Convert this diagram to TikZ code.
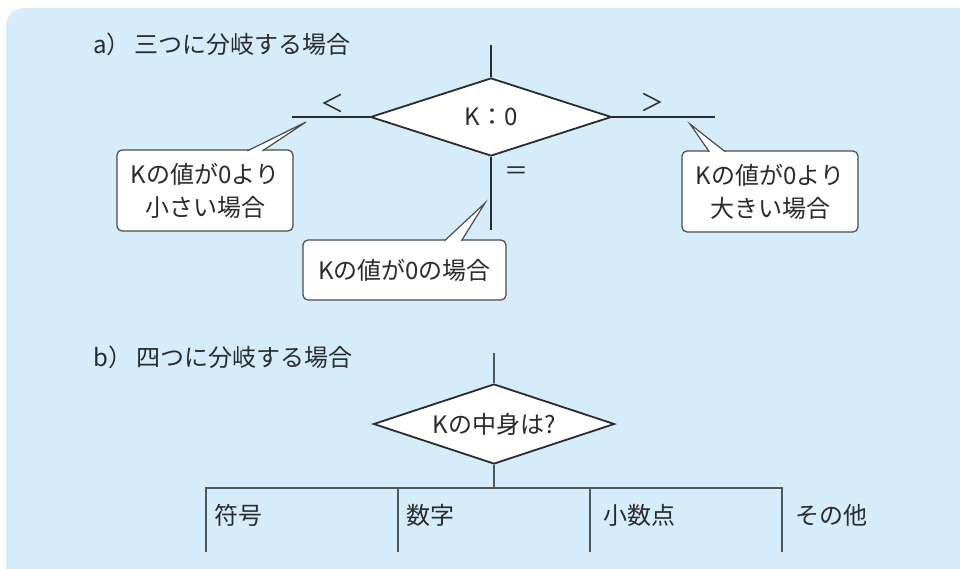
\documentclass[tikz,border=0pt]{standalone}
\usepackage{fontspec}
\setmainfont{Noto Sans CJK JP}
\usetikzlibrary{shapes.geometric,calc}
\definecolor{bgblue}{HTML}{D5EDFA}
\definecolor{ink}{HTML}{2B2B2B}
\definecolor{rule}{HTML}{555555}
\tikzset{
  decision/.style={diamond, draw=ink, line width=1.8pt, fill=white, inner sep=0pt, text=ink},
  flowline/.style={draw=ink, line width=1.6pt},
  caseline/.style={draw=rule, line width=1.6pt},
  notebox/.style={draw=ink!85, line width=1.2pt, fill=white, rounded corners=5pt, align=center, text=ink, inner sep=0pt},
  notetip/.style={draw=ink!85, line width=1.2pt, fill=white},
  tag/.style={text=ink, inner sep=0pt}
}
\begin{document}
\begin{tikzpicture}[x=1pt,y=-1pt,font=\fontsize{24}{33}\selectfont]
\clip (0,0) rectangle (960,568);
\fill[bgblue, rounded corners=18pt] (6,8) rectangle (990,600);

% a)
\node[tag, anchor=west] (ta) at (93,44) {a）\hspace{4pt}三つに分岐する場合};
\node[decision, minimum width=241pt, minimum height=78pt, aspect=3.1] (k0) at (491,117) {K：0};
\coordinate (k0in) at (491,45);
\coordinate (ltend) at (292,117);
\coordinate (gtend) at (715,117);
\coordinate (eqend) at (491,230);
\draw[flowline] (k0in) -- (k0.north);
\draw[flowline] (k0.west) -- (ltend);
\draw[flowline] (k0.east) -- (gtend);
\draw[flowline] (k0.south) -- (eqend);
\node[tag] (lt) at (332,103) {＜};
\node[tag] (gt) at (652,102) {＞};
\node[tag] (eq) at (516,173) {＝};

\node[notebox, minimum width=176pt, minimum height=81pt] (ltbox) at (205,190.5) {Kの値が0より\\小さい場合};
\coordinate (lttip) at (306,122);
\draw[notetip] ($(ltbox.north west)+(131,1.5)$) -- (lttip) -- ($(ltbox.north west)+(146,1.5)$);

\node[notebox, minimum width=203pt, minimum height=60pt] (eqbox) at (404.5,270) {Kの値が0の場合};
\coordinate (eqtip) at (485,203);
\draw[notetip] ($(eqbox.north west)+(142,1.5)$) -- (eqtip) -- ($(eqbox.north west)+(159,1.5)$);

\node[notebox, minimum width=176pt, minimum height=81pt] (gtbox) at (770,191.5) {Kの値が0より\\大きい場合};
\coordinate (gttip) at (690,124);
\draw[notetip] ($(gtbox.north west)+(28,1.5)$) -- (gttip) -- ($(gtbox.north west)+(44,1.5)$);

% b)
\node[tag, anchor=west] (tb) at (93,357) {b）\hspace{4pt}四つに分岐する場合};
\node[decision, minimum width=241pt, minimum height=80pt, aspect=3] (kq) at (494,424) {Kの中身は?};
\coordinate (kqin) at (494,353);
\coordinate (fork) at (494,488);
\draw[caseline] (kqin) -- (kq.north);
\draw[caseline] (kq.south) -- (fork);
\foreach \x/\n in {206/1,398/2,590/3,782/4} {
  \coordinate (top\n) at (\x,488);
  \coordinate (bot\n) at (\x,552);
}
\draw[caseline] (bot1) -- (top1) -- (top4) -- (bot4);
\draw[caseline] (top2) -- (bot2);
\draw[caseline] (top3) -- (bot3);
\node[tag, anchor=west] (sign) at (214,515) {符号};
\node[tag, anchor=west] (digit) at (406,515) {数字};
\node[tag, anchor=west] (point) at (603,515) {小数点};
\node[tag, anchor=west] (other) at (795,515) {その他};
\end{tikzpicture}
\end{document}
